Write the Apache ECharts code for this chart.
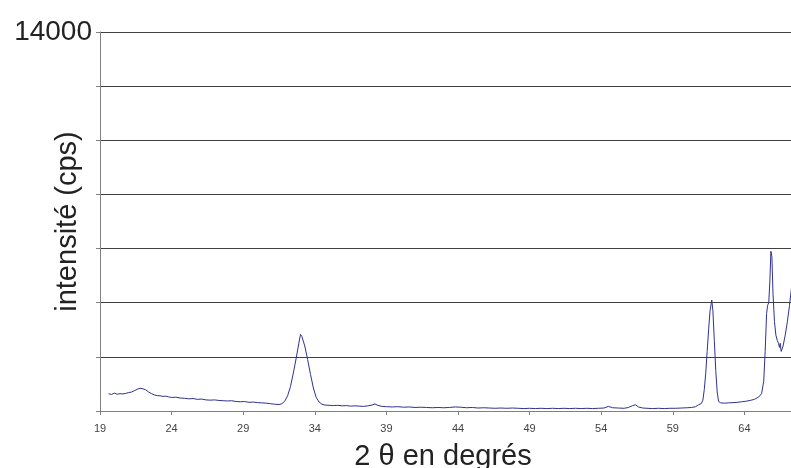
<!DOCTYPE html>
<html>
<head>
<meta charset="utf-8">
<script src="https://cdn.jsdelivr.net/npm/echarts@6/dist/echarts.min.js"></script>
<style>html,body{margin:0;padding:0;background:#fff}#c{width:791px;height:468px}</style>
</head>
<body>
<div id="c"></div>
<script>
const xTitle = '2 \u03b8 en degrés';
const yTitle = 'intensité (cps)';
const twoTheta = [19.6,19.8,20.0,20.2,20.4,20.6,20.8,21.0,21.2,21.4,21.6,21.8,21.9,22.0,22.2,22.4,22.6,22.8,23.0,23.2,23.4,23.6,23.8,24.0,24.3,24.6,24.9,25.2,25.5,25.8,26.1,26.4,26.7,27.0,27.3,27.6,27.9,28.2,28.5,28.8,29.1,29.4,29.7,30.0,30.3,30.6,30.9,31.2,31.5,31.7,31.9,32.1,32.3,32.5,32.7,32.9,33.0,33.1,33.3,33.5,33.7,33.9,34.1,34.3,34.5,34.7,35.0,35.3,35.6,35.9,36.2,36.5,36.8,37.1,37.4,37.7,38.0,38.2,38.4,38.7,39.0,39.4,39.8,40.2,40.6,41.0,41.4,41.8,42.2,42.6,43.0,43.4,43.8,44.2,44.6,45.0,45.4,45.8,46.2,46.6,47.0,47.4,47.8,48.2,48.6,49.0,49.4,49.8,50.2,50.6,51.0,51.4,51.8,52.2,52.6,53.0,53.4,53.8,54.2,54.5,54.8,55.2,55.6,55.9,56.2,56.4,56.6,56.9,57.2,57.6,58.0,58.4,58.8,59.2,59.6,60.0,60.3,60.6,60.8,61.0,61.1,61.2,61.3,61.4,61.5,61.6,61.72,61.8,61.9,62.0,62.1,62.2,62.35,62.6,62.9,63.2,63.5,63.8,64.1,64.4,64.7,65.0,65.2,65.35,65.45,65.55,65.62,65.7,65.78,65.85,65.92,66.0,66.1,66.2,66.3,66.38,66.45,66.5,66.57,66.7,66.85,67.0,67.15,67.3,67.5];
const intensity = [640,610,660,620,640,630,650,680,700,750,800,840,870,820,780,700,640,590,570,560,540,550,520,500,510,480,470,450,460,430,440,410,400,410,390,380,370,380,350,340,350,320,330,310,300,290,270,250,240,270,360,560,900,1400,1950,2550,2830,2750,2400,1900,1350,850,500,330,250,220,210,200,210,190,200,180,190,180,170,190,220,260,210,170,160,150,160,140,150,130,140,130,120,130,120,130,150,140,120,130,110,120,110,100,110,100,110,100,90,100,90,100,90,100,90,100,90,100,90,100,90,100,110,170,120,110,100,130,200,230,150,110,100,90,100,90,100,100,110,120,130,160,230,280,400,800,1400,2200,3000,3700,4100,3700,2600,1500,700,350,300,290,300,310,320,340,360,390,430,520,640,1100,2200,3600,3900,4000,4800,5900,5700,4300,3300,2800,2600,2500,2350,2500,2200,2400,2800,3300,3900,4600,5400];
const yMin = 0, yMax = 14000, yStep = 2000;
const xMin = 19, xMax = 69, xStep = 5;

const chart = echarts.init(document.getElementById('c'), null, {renderer: 'canvas'});
const FONT = 'Liberation Sans, Arial, sans-serif';
chart.setOption({
  animation: false,
  backgroundColor: '#ffffff',
  grid: {left: 100, top: 32, bottom: 57, right: -25, containLabel: false, outerBoundsMode: 'none'},
  xAxis: {
    type: 'value', min: xMin, max: xMax, interval: xStep,
    name: xTitle, nameLocation: 'middle', nameGap: 31, nameMoveOverlap: false,
    nameTextStyle: {fontFamily: FONT, fontSize: 29, color: '#222', padding: [0, 30, 0, 0]},
    axisLine: {show: true, lineStyle: {color: '#808080', width: 1}},
    axisTick: {show: true, length: 4, lineStyle: {color: '#808080'}},
    axisLabel: {fontFamily: FONT, fontSize: 11, color: '#444', margin: 12},
    splitLine: {show: false}
  },
  yAxis: {
    type: 'value', min: yMin, max: yMax, interval: yStep,
    name: yTitle, nameLocation: 'middle', nameGap: 18, nameRotate: 90, nameMoveOverlap: false,
    nameTextStyle: {fontFamily: FONT, fontSize: 29, color: '#222'},
    axisLine: {show: true, lineStyle: {color: '#808080', width: 1}},
    axisTick: {show: true, length: 4, lineStyle: {color: '#808080'}},
    axisLabel: {fontFamily: FONT, fontSize: 28, color: '#222', margin: 8,
      formatter: v => (v === yMax ? String(v) : '')},
    splitLine: {show: true, lineStyle: {color: '#404040', width: 1}}
  },
  series: [{
    type: 'line', showSymbol: false, symbol: 'none',
    data: twoTheta.map((t, i) => [t, intensity[i]]),
    lineStyle: {color: '#2e3192', width: 1},
    itemStyle: {color: '#2e3192'}
  }]
});
</script>
</body>
</html>
